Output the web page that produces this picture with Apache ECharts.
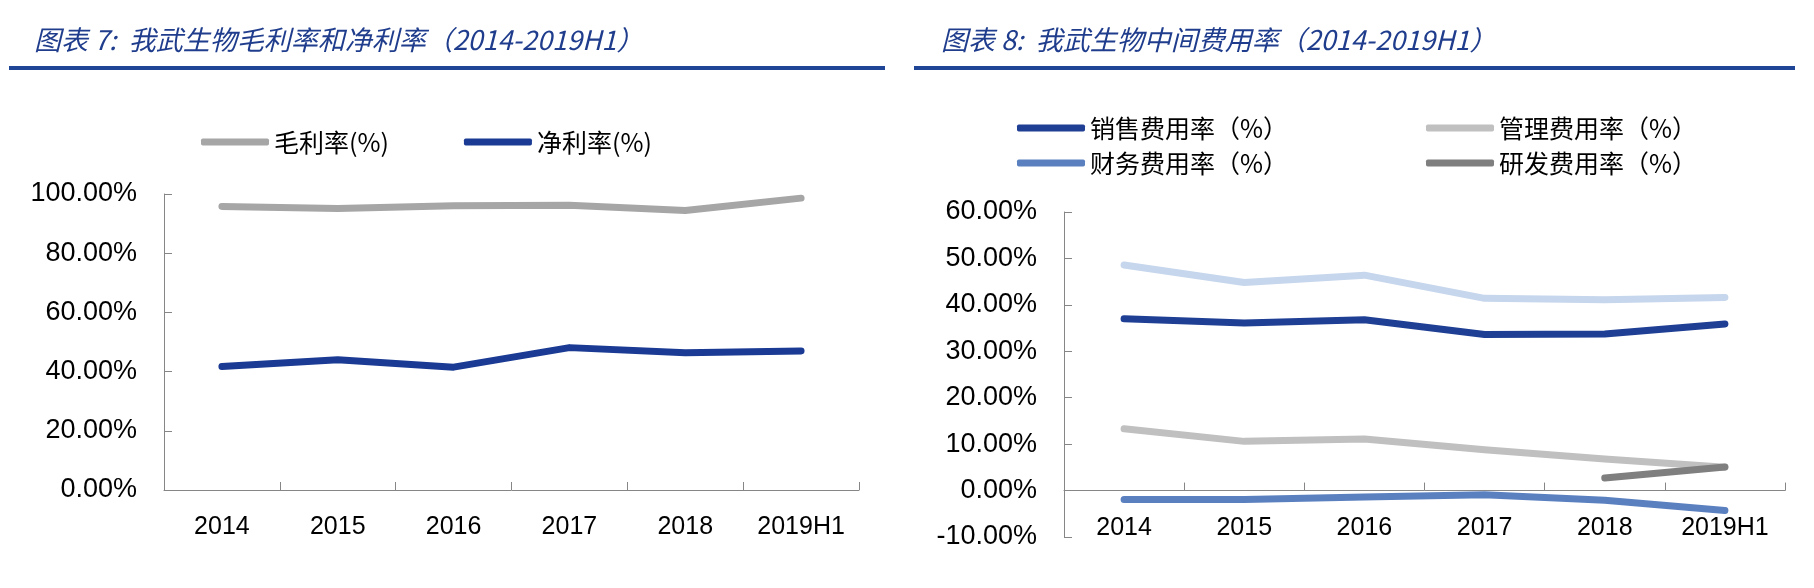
<!DOCTYPE html>
<html>
<head>
<meta charset="utf-8">
<script src="https://cdn.jsdelivr.net/npm/echarts@6/dist/echarts.min.js"></script>
<style>
html,body{margin:0;padding:0;background:#fff;}
#c{width:1814px;height:588px;}
</style>
</head>
<body>
<div id="c"></div>
<script>
const categories = ['2014', '2015', '2016', '2017', '2018', '2019H1'];
const grossMargin = [95.8, 95.1, 96.0, 96.2, 94.4, 98.6];
const netMargin = [41.7, 44.0, 41.5, 48.1, 46.4, 47.0];
const salesExp = [37.0, 36.1, 36.8, 33.6, 33.7, 35.9];
const adminExp = [13.3, 10.6, 11.1, 8.8, 6.8, 5.0];
const finExp = [-1.9, -1.9, -1.4, -0.9, -2.1, -4.3];
const rdExp = [null, null, null, null, 2.7, 5.1];
const totalExp = [48.6, 44.8, 46.4, 41.4, 41.1, 41.6];

const title1 = '图表 7:  我武生物毛利率和净利率（2014-2019H1）';
const title2 = '图表 8:  我武生物中间费用率（2014-2019H1）';
const leftNames = ['毛利率(%)', '净利率(%)'];
const rightNames = ['销售费用率（%）', '管理费用率（%）', '财务费用率（%）', '研发费用率（%）', '期间费用率（%）'];

const NUM_FONT = '"Liberation Sans", Arial, sans-serif';
const CJK_FONT = '"Noto Sans CJK SC", sans-serif';
const AXIS_COLOR = '#868686';
const TITLE_COLOR = '#1F3D8C';

const chart = echarts.init(document.getElementById('c'), null, {renderer: 'canvas'});

function valueAxis(gi, min, max, interval) {
  return {
    type: 'value', gridIndex: gi, min: min, max: max, interval: interval,
    axisLine: {show: true, lineStyle: {color: AXIS_COLOR, width: 1}},
    axisTick: {show: true, inside: true, length: 8, lineStyle: {color: AXIS_COLOR}},
    splitLine: {show: false},
    axisLabel: {
      margin: 27, color: '#000', fontSize: 27, fontFamily: NUM_FONT,
      formatter: v => v.toFixed(2) + '%'
    }
  };
}
function catAxis(gi, offset) {
  return {
    type: 'category', gridIndex: gi, data: categories, boundaryGap: true,
    offset: offset,
    axisLine: {show: true, onZero: false, lineStyle: {color: AXIS_COLOR, width: 1}},
    axisTick: {show: true, inside: true, length: 8, alignWithLabel: false, lineStyle: {color: AXIS_COLOR}},
    axisLabel: {margin: 25, color: '#000', fontSize: 25, fontFamily: NUM_FONT, interval: 0}
  };
}
function lineSeries(name, data, color, xi, yi) {
  return {
    type: 'line', name: name, data: data, xAxisIndex: xi, yAxisIndex: yi,
    showSymbol: false, symbol: 'none', smooth: false, connectNulls: false,
    lineStyle: {color: color, width: 7, cap: 'round', join: 'round'},
    itemStyle: {color: color},
    emphasis: {disabled: true}, animation: false
  };
}
const legendBase = {
  icon: 'roundRect', itemWidth: 68, itemHeight: 7, itemGap: 5,
  textStyle: {fontSize: 25, fontFamily: CJK_FONT, color: '#000', lineHeight: 30},
  selectedMode: false
};

const option = {
  animation: false,
  backgroundColor: '#fff',
  title: [
    {text: title1, left: 29, top: 21,
     textStyle: {fontSize: 27, fontStyle: 'italic', fontWeight: 'normal', color: TITLE_COLOR, fontFamily: CJK_FONT}},
    {text: title2, left: 936, top: 21,
     textStyle: {fontSize: 27, fontStyle: 'italic', fontWeight: 'normal', color: TITLE_COLOR, fontFamily: CJK_FONT}}
  ],
  graphic: [
    {type: 'rect', shape: {x: 9, y: 66, width: 876, height: 4}, style: {fill: '#1F4596'}},
    {type: 'rect', shape: {x: 914, y: 66, width: 881, height: 4}, style: {fill: '#1F4596'}}
  ],
  legend: [
    Object.assign({}, legendBase, {left: 196, top: 122, orient: 'horizontal', itemGap: 75, data: leftNames}),
    Object.assign({}, legendBase, {left: 1012, top: 108, orient: 'vertical', data: [rightNames[0], rightNames[2]]}),
    Object.assign({}, legendBase, {left: 1421, top: 108, orient: 'vertical', data: [rightNames[1], rightNames[3]]})
  ],
  grid: [
    {left: 164, top: 194, width: 695, height: 296, containLabel: false},
    {left: 1064, top: 212, width: 721, height: 325, containLabel: false}
  ],
  xAxis: [catAxis(0, 0), catAxis(1, -325 / 7)],
  yAxis: [valueAxis(0, 0, 100, 20), valueAxis(1, -10, 60, 10)],
  series: [
    lineSeries(leftNames[0], grossMargin, '#A6A6A6', 0, 0),
    lineSeries(leftNames[1], netMargin, '#1A3A93', 0, 0),
    lineSeries(rightNames[4], totalExp, '#C6D6EC', 1, 1),
    lineSeries(rightNames[0], salesExp, '#1F3F94', 1, 1),
    lineSeries(rightNames[1], adminExp, '#C0C0C0', 1, 1),
    lineSeries(rightNames[2], finExp, '#5B80C0', 1, 1),
    lineSeries(rightNames[3], rdExp, '#7F7F7F', 1, 1)
  ]
};
chart.setOption(option);
</script>
</body>
</html>
